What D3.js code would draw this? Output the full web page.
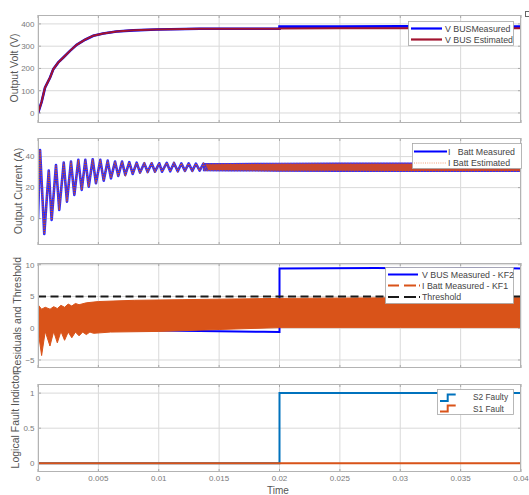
<!DOCTYPE html>
<html>
<head>
<meta charset="utf-8">
<script src="https://cdn.jsdelivr.net/npm/d3@7"></script>
<style>
  html, body { margin: 0; padding: 0; background: #fff; }
  svg { display: block; font-family: "Liberation Sans", Arial, sans-serif; }
</style>
</head>
<body>
<svg id="chart" width="529" height="495"></svg>
<script>
// ---- shared time axis ----
const timeTicks = [0, 0.005, 0.01, 0.015, 0.02, 0.025, 0.03, 0.035, 0.04];
const timeTickLabels = ["0", "0.005", "0.01", "0.015", "0.02", "0.025", "0.03", "0.035", "0.04"];

// ---- bus voltage (V) ----
const vbusTime      = [0, 0.0003, 0.00058, 0.001, 0.00127, 0.00168, 0.0021, 0.00265, 0.0032, 0.0039, 0.00458, 0.0054, 0.0065, 0.0079, 0.0098, 0.0134, 0.02, 0.02, 0.025, 0.03, 0.035, 0.04];
const vbusMeasured  = [0, 50, 114, 159, 197, 227, 249, 279, 306, 329, 347, 357, 366, 371, 375, 378, 378, 388, 388, 389, 388, 388];
const vbusEstimated = [0, 50, 114, 159, 197, 227, 249, 279, 306, 329, 347, 357, 366, 371, 375, 378, 378, 379, 380, 380, 380, 380];
const voltTicks = [0, 100, 200, 300, 400];

// ---- battery current (A): resolved oscillation peaks / troughs ----
const currPeakT   = [0.00017, 0.00089, 0.00149, 0.00213, 0.00273, 0.00334, 0.00392, 0.00453, 0.00516, 0.00577, 0.00638, 0.00696, 0.00756, 0.00817, 0.0088, 0.00941, 0.01004, 0.01066, 0.01126, 0.01187, 0.01248, 0.01308, 0.0137];
const currPeak    = [44.3, 31.0, 34.6, 36.1, 36.8, 37.9, 37.9, 38.3, 37.9, 37.4, 36.8, 36.8, 36.4, 36.1, 35.7, 35.7, 35.7, 36.0, 35.9, 35.6, 35.6, 35.5, 35.5];
const currTroughT = [0.00052, 0.00113, 0.00176, 0.0024, 0.00301, 0.00362, 0.0042, 0.0048, 0.00544, 0.00604, 0.00665, 0.00723, 0.00784, 0.00845, 0.00908, 0.00969, 0.01027, 0.01095, 0.01157, 0.01217, 0.01278, 0.01339, 0.01399];
const currTrough  = [-9.9, -0.8, 5.6, 11.0, 15.3, 18.5, 20.6, 22.8, 24.5, 26.0, 27.5, 28.2, 28.8, 29.7, 30.1, 30.3, 30.3, 30.5, 30.5, 30.8, 30.8, 31.0, 31.0];
// steady-state ripple band
const currBandT  = [0.0137, 0.016, 0.02, 0.025, 0.03, 0.035, 0.04];
const currBandHi = [35.5, 35.6, 35.7, 35.8, 35.8, 35.8, 35.8];
const currBandLo = [30.9, 30.8, 30.6, 30.5, 30.4, 30.4, 30.4];
const currTicks = [0, 20, 40];

// ---- residuals ----
const kf2Time = [0, 0.003, 0.004, 0.0079, 0.0134, 0.0187, 0.02, 0.02, 0.024, 0.028, 0.032, 0.036, 0.04];
const kf2Res  = [0, 0, -0.05, -0.3, -0.45, -0.55, -0.6, 9.4, 9.45, 9.5, 9.4, 9.5, 9.4];
const kf1UpperT = [0, 0.0003, 0.0006, 0.001, 0.0013, 0.0016, 0.0019, 0.0022, 0.0025, 0.0028, 0.0031, 0.0034, 0.004, 0.005, 0.008, 0.012, 0.02, 0.03, 0.04];
const kf1Upper  = [3.7, 3.0, 3.3, 3.0, 3.4, 3.1, 3.6, 3.3, 3.8, 3.5, 3.9, 3.7, 4.0, 4.2, 4.4, 4.5, 4.7, 4.8, 4.8];
const kf1LowerT = [0, 0.0003, 0.0006, 0.00099, 0.0013, 0.0016, 0.0019, 0.0022, 0.0025, 0.0028, 0.0031, 0.0034, 0.0037, 0.004, 0.0043, 0.0046, 0.006, 0.01, 0.015, 0.02, 0.03, 0.04];
const kf1Lower  = [-0.3, -4.3, -0.5, -2.8, -0.5, -2.3, -0.5, -1.9, -0.6, -1.5, -0.6, -1.2, -0.6, -1.0, -0.6, -0.8, -0.6, -0.5, -0.2, 0.1, 0.1, 0.1];
const thresholdT = [0, 0.04];
const threshold  = [5, 5];
const resTicks = [-5, 0, 5, 10];

// ---- fault flags ----
const faultT   = [0, 0.02, 0.04];
const s2Faulty = [0, 1, 1];
const s1Fault  = [0, 0, 0];
const faultTicks = [0, 0.5, 1];

// ---- layout ----
const svg = d3.select("#chart");
const x = d3.scaleLinear().domain([0, 0.04]).range([38, 521]);
const X0 = 38, X1 = 521;
const TICK_FONT = 8;

const zip = (ts, vs) => ts.map((t, i) => [t, vs[i]]);

function makePanel(id, top, bottom, domain, ticks, label, labelX, labelY) {
  const y = d3.scaleLinear().domain(domain).range([bottom, top]);
  const g = svg.append("g");
  g.append("rect").attr("x", X0).attr("y", top).attr("width", X1 - X0).attr("height", bottom - top).attr("fill", "#fff");
  // grid
  g.append("g").selectAll("line").data(timeTicks).join("line")
    .attr("x1", d => x(d)).attr("x2", d => x(d)).attr("y1", top).attr("y2", bottom)
    .attr("stroke", "#d9d9d9").attr("stroke-width", 1);
  g.append("g").selectAll("line").data(ticks).join("line")
    .attr("x1", X0).attr("x2", X1).attr("y1", d => y(d)).attr("y2", d => y(d))
    .attr("stroke", "#d9d9d9").attr("stroke-width", 1);
  // inner ticks
  const tk = g.append("g").attr("stroke", "#9a9a9a").attr("stroke-width", 0.8);
  ticks.forEach(d => {
    tk.append("line").attr("x1", X0).attr("x2", X0 + 3).attr("y1", y(d)).attr("y2", y(d));
    tk.append("line").attr("x1", X1 - 3).attr("x2", X1).attr("y1", y(d)).attr("y2", y(d));
  });
  timeTicks.forEach(d => {
    tk.append("line").attr("x1", x(d)).attr("x2", x(d)).attr("y1", bottom).attr("y2", bottom - 3);
    tk.append("line").attr("x1", x(d)).attr("x2", x(d)).attr("y1", top).attr("y2", top + 3);
  });
  // tick labels
  g.append("g").selectAll("text").data(ticks).join("text")
    .attr("x", 34.5).attr("y", d => y(d)).attr("dy", "0.35em")
    .attr("text-anchor", "end").attr("font-size", TICK_FONT).attr("fill", "#7a7a7a")
    .text(d => d3.format("~g")(d));
  // axis label
  g.append("text")
    .attr("transform", `translate(${labelX},${labelY}) rotate(-90)`)
    .attr("text-anchor", "middle").attr("dy", "0.35em")
    .attr("font-size", 10.5).attr("fill", "#555")
    .text(label);
  // clip for series
  svg.append("clipPath").attr("id", "clip-" + id)
    .append("rect").attr("x", X0).attr("y", top).attr("width", X1 - X0).attr("height", bottom - top);
  const plot = svg.append("g").attr("clip-path", `url(#clip-${id})`);
  const frame = () => svg.append("rect").attr("x", X0 + 0.5).attr("y", top + 0.5)
    .attr("width", X1 - X0 - 1).attr("height", bottom - top - 1)
    .attr("fill", "none").attr("stroke", "#b3b3b3").attr("stroke-width", 1);
  return { y, plot, frame, top, bottom };
}

function legend(x0, y0, w, h) {
  const g = svg.append("g");
  g.append("rect").attr("x", x0 + 0.5).attr("y", y0 + 0.5).attr("width", w).attr("height", h)
    .attr("fill", "#fff").attr("stroke", "#a6a6a6").attr("stroke-width", 0.8);
  return g;
}

// ---- panel 1: bus voltage ----
const p1 = makePanel("v", 15, 123, [-45, 440], voltTicks, "Output Volt (V)", 14, 68);
const l1 = d3.line().x(d => x(d[0])).y(d => p1.y(d[1]));
p1.plot.append("path").attr("d", l1(zip(vbusTime, vbusMeasured)))
  .attr("fill", "none").attr("stroke", "#0000ff").attr("stroke-width", 2.6);
p1.plot.append("path").attr("d", l1(zip(vbusTime, vbusEstimated)))
  .attr("fill", "none").attr("stroke", "#a2142f").attr("stroke-width", 2);
p1.frame();
{
  const g = legend(408, 21, 105, 24);
  g.append("line").attr("x1", 411).attr("x2", 442).attr("y1", 28.5).attr("y2", 28.5).attr("stroke", "#0000ff").attr("stroke-width", 2.2);
  g.append("line").attr("x1", 411).attr("x2", 442).attr("y1", 39.5).attr("y2", 39.5).attr("stroke", "#a2142f").attr("stroke-width", 2.2);
  g.append("text").attr("x", 445).attr("y", 28.5).attr("dy", "0.35em").attr("font-size", 8.8).attr("fill", "#444").text("V BUSMeasured");
  g.append("text").attr("x", 445).attr("y", 39.5).attr("dy", "0.35em").attr("font-size", 8.8).attr("fill", "#444").text("V BUS Estimated");
}

// ---- panel 2: battery current ----
const p2 = makePanel("i", 138, 245, [-17, 52], currTicks, "Output Current (A)", 18, 191);
const l2 = d3.line().x(d => x(d[0])).y(d => p2.y(d[1]));
// alternate peaks and troughs into one trace
const currOsc = [[0, 0]];
currPeakT.forEach((t, i) => {
  currOsc.push([t, currPeak[i]]);
  currOsc.push([currTroughT[i], currTrough[i]]);
});
const bandArea = d3.area().x(d => x(d[0])).y0(d => p2.y(d[2])).y1(d => p2.y(d[1]));
const band = currBandT.map((t, i) => [t, currBandHi[i], currBandLo[i]]);
p2.plot.append("path").attr("d", bandArea(band)).attr("fill", "#c9472f").attr("stroke", "#3030ff").attr("stroke-width", 1.1);
p2.plot.append("path").attr("d", l2(currOsc))
  .attr("fill", "none").attr("stroke", "#2b2bff").attr("stroke-width", 2.6).attr("stroke-linejoin", "round");
p2.plot.append("path").attr("d", l2(currOsc))
  .attr("fill", "none").attr("stroke", "#d95319").attr("stroke-width", 1.3).attr("stroke-dasharray", "1.2,1.2");
p2.plot.append("path").attr("d", bandArea(band)).attr("fill", "none")
  .attr("stroke", "#d95319").attr("stroke-width", 0.8).attr("stroke-dasharray", "1,2").attr("opacity", 0.8);
p2.frame();
{
  const g = legend(412, 143, 109, 25);
  g.append("line").attr("x1", 414).attr("x2", 447).attr("y1", 151.5).attr("y2", 151.5).attr("stroke", "#0000ff").attr("stroke-width", 2.2);
  g.append("line").attr("x1", 414).attr("x2", 447).attr("y1", 163).attr("y2", 163).attr("stroke", "#f0a07a").attr("stroke-width", 1).attr("stroke-dasharray", "1,1.2");
  g.append("text").attr("x", 448).attr("y", 151.5).attr("dy", "0.35em").attr("font-size", 8.8).attr("fill", "#444").attr("xml:space", "preserve").text("I   Batt Measured");
  g.append("text").attr("x", 448).attr("y", 163).attr("dy", "0.35em").attr("font-size", 8.8).attr("fill", "#444").text("I Batt Estimated");
}

// ---- panel 3: residuals ----
const p3 = makePanel("r", 263, 368, [-6.26, 10.27], resTicks, "Residuals and Threshold", 17.5, 315);
const l3 = d3.line().x(d => x(d[0])).y(d => p3.y(d[1]));
p3.plot.append("path").attr("d", l3(zip(kf2Time, kf2Res)))
  .attr("fill", "none").attr("stroke", "#0000ff").attr("stroke-width", 2);
const kf1Poly = zip(kf1UpperT, kf1Upper).concat(zip(kf1LowerT, kf1Lower).reverse());
p3.plot.append("path").attr("d", l3(kf1Poly) + "Z")
  .attr("fill", "#d95319").attr("stroke", "#d95319").attr("stroke-width", 1).attr("stroke-linejoin", "round");
p3.plot.append("path").attr("d", l3(zip(thresholdT, threshold)))
  .attr("fill", "none").attr("stroke", "#1a1a1a").attr("stroke-width", 2).attr("stroke-dasharray", "8,4.5");
p3.frame();
{
  const g = legend(385, 267, 128, 36);
  g.append("line").attr("x1", 388).attr("x2", 418).attr("y1", 274.5).attr("y2", 274.5).attr("stroke", "#0000ff").attr("stroke-width", 2);
  g.append("line").attr("x1", 388).attr("x2", 420).attr("y1", 285.5).attr("y2", 285.5).attr("stroke", "#d95319").attr("stroke-width", 2).attr("stroke-dasharray", "11,5,12,3,1.5");
  g.append("line").attr("x1", 388).attr("x2", 420).attr("y1", 297).attr("y2", 297).attr("stroke", "#1a1a1a").attr("stroke-width", 2).attr("stroke-dasharray", "11,5,12,3,1.5");
  const tx = [["V BUS Measured - KF2", 274.5], ["I Batt Measured - KF1", 285.5], ["Threshold", 297]];
  tx.forEach(([s, yy]) => g.append("text").attr("x", 422).attr("y", yy).attr("dy", "0.35em").attr("font-size", 8.8).attr("fill", "#444").text(s));
}

// ---- panel 4: fault flags ----
const p4 = makePanel("f", 384, 472, [-0.125, 1.13], faultTicks, "Logical Fault Indictor", 15.5, 420);
const l4 = d3.line().x(d => x(d[0])).y(d => p4.y(d[1])).curve(d3.curveStepAfter);
p4.plot.append("path").attr("d", l4(zip(faultT, s2Faulty)))
  .attr("fill", "none").attr("stroke", "#0072bd").attr("stroke-width", 2);
p4.plot.append("path").attr("d", l4(zip(faultT, s1Fault)))
  .attr("fill", "none").attr("stroke", "#d95319").attr("stroke-width", 2);
p4.frame();
{
  const g = legend(437, 389, 76, 25);
  const step = (yb, yt) => `M440,${yb}H447.7V${yt}H455.7`;
  g.append("path").attr("d", step(401, 394.5)).attr("fill", "none").attr("stroke", "#0072bd").attr("stroke-width", 2);
  g.append("path").attr("d", step(411.5, 405.5)).attr("fill", "none").attr("stroke", "#d95319").attr("stroke-width", 2);
  g.append("text").attr("x", 473).attr("y", 397.5).attr("dy", "0.35em").attr("font-size", 8.3).attr("fill", "#444").text("S2 Faulty");
  g.append("text").attr("x", 473).attr("y", 408.7).attr("dy", "0.35em").attr("font-size", 8.3).attr("fill", "#444").text("S1 Fault");
}

// time axis labels (bottom panel only)
svg.append("g").selectAll("text").data(timeTicks).join("text")
  .attr("x", d => x(d)).attr("y", 478.5).attr("dy", "0.35em")
  .attr("text-anchor", "middle").attr("font-size", TICK_FONT).attr("fill", "#7a7a7a")
  .text((d, i) => timeTickLabels[i]);
svg.append("text").attr("x", 278).attr("y", 494).attr("text-anchor", "middle")
  .attr("font-size", 10).attr("fill", "#555").text("Time");

// figure toolbar glyph at top-right corner
svg.append("rect").attr("x", 525.5).attr("y", 11.5).attr("width", 6).attr("height", 5)
  .attr("fill", "none").attr("stroke", "#666").attr("stroke-width", 1);
</script>
</body>
</html>
